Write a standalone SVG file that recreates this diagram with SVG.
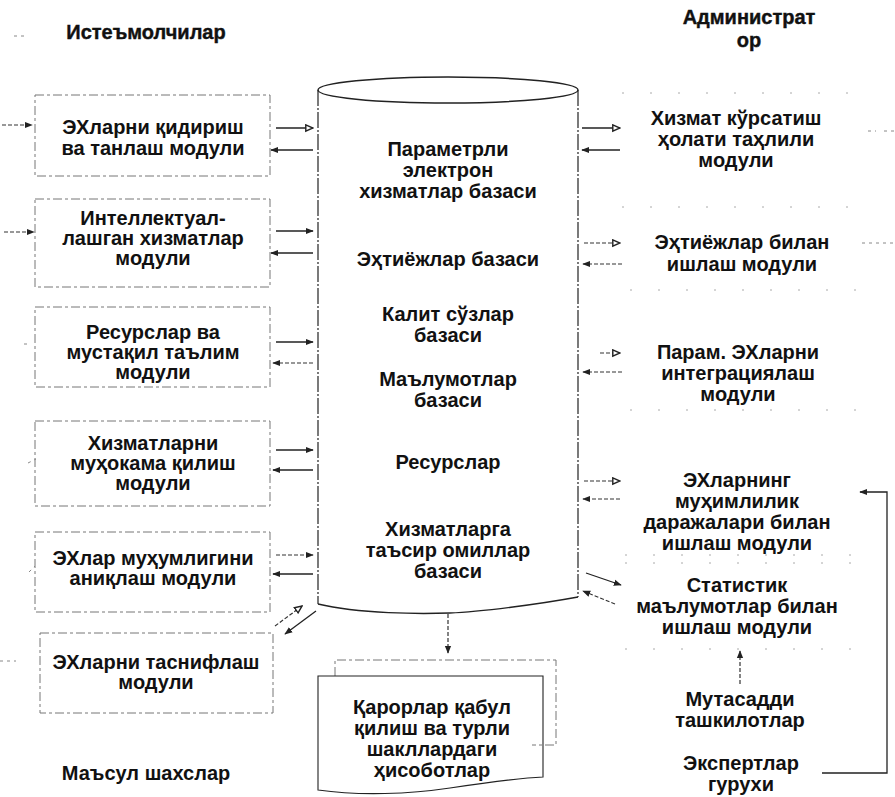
<svg xmlns="http://www.w3.org/2000/svg" width="895" height="797" viewBox="0 0 895 797">
<style>
  text { font-family: "Liberation Sans", Arial, sans-serif; font-weight: bold; font-size: 20px; fill: #111; text-anchor: middle; }
  .hdr { font-size: 20px; font-weight: 900; stroke: #111; stroke-width: 0.4; }
  .box { fill: none; stroke: #777; stroke-width: 1; stroke-dasharray: 9 3 3 3; }
  .fbox { fill: none; stroke: #aaa; stroke-width: 1; stroke-dasharray: 2 26; }
  .cyl { fill: none; stroke: #222; stroke-width: 1.4; }
  .cylside { fill: none; stroke: #222; stroke-width: 1.2; stroke-dasharray: 16 2 2 2; }
  .a { fill: none; stroke: #222; stroke-width: 1.3; }
  .ad { fill: none; stroke: #333; stroke-width: 1.2; stroke-dasharray: 4 2; }
  .faint { fill: none; stroke: #888; stroke-width: 1; stroke-dasharray: 3 4; }
</style>
<defs>
  <marker id="h" viewBox="0 0 10 10" refX="9" refY="5" markerWidth="8" markerHeight="8" markerUnits="userSpaceOnUse" orient="auto">
    <path d="M0,1 L10,5 L0,9 Z" fill="#222"/>
  </marker>
  <marker id="ho" viewBox="0 0 10 10" refX="9" refY="5" markerWidth="9" markerHeight="9" markerUnits="userSpaceOnUse" orient="auto">
    <path d="M1,1.5 L9,5 L1,8.5 Z" fill="#fff" stroke="#222" stroke-width="1.6"/>
  </marker>
</defs>

<!-- headers -->
<g id="consumers-header"><text class="hdr" x="146" y="39">Истеъмолчилар</text><path class="faint" d="M14,36 L26,36"/></g>
<g id="admin-header"><text class="hdr" x="749" y="24">Администрат</text><text class="hdr" x="749" y="47">ор</text></g>

<!-- left modules -->
<g id="m-search"><rect class="box" x="35" y="95" width="235" height="81"/><text x="153" y="134">ЭХларни қидириш</text><text x="153" y="155">ва танлаш модули</text></g>
<g id="m-intel"><rect class="box" x="35" y="199" width="235" height="88"/><text x="153" y="225">Интеллектуал-</text><text x="153" y="245">лашган хизматлар</text><text x="153" y="265">модули</text></g>
<g id="m-res"><rect class="box" x="35" y="307" width="235" height="80"/><text x="153" y="339">Ресурслар ва</text><text x="153" y="359">мустақил таълим</text><text x="153" y="379">модули</text></g>
<g id="m-disc"><rect class="box" x="35" y="421" width="235" height="85"/><text x="153" y="450">Хизматларни</text><text x="153" y="470">муҳокама қилиш</text><text x="153" y="490">модули</text></g>
<g id="m-imp"><rect class="box" x="35" y="532" width="235" height="80"/><text x="153" y="565">ЭХлар муҳумлигини</text><text x="153" y="585">аниқлаш модули</text></g>
<g id="m-class"><rect class="box" x="40" y="633" width="233" height="80"/><text x="156" y="669">ЭХларни таснифлаш</text><text x="156" y="689">модули</text></g>
<g id="resp"><text x="146" y="780">Маъсул шахслар</text></g>

<!-- cylinder -->
<g id="db">
  <ellipse class="cyl" cx="448" cy="90" rx="130" ry="13"/>
  <path class="cylside" d="M318,90 L318,604"/>
  <path class="cylside" d="M578,90 L578,597"/>
  <path class="cyl" d="M318,604 C360,614 420,614 450,613 S540,604 578,597"/>
  <text x="448" y="156">Параметрли</text>
  <text x="448" y="177">электрон</text>
  <text x="448" y="198">хизматлар базаси</text>
  <text x="448" y="266">Эҳтиёжлар базаси</text>
  <text x="448" y="321">Калит сўзлар</text>
  <text x="448" y="342">базаси</text>
  <text x="448" y="386">Маълумотлар</text>
  <text x="448" y="407">базаси</text>
  <text x="448" y="469">Ресурслар</text>
  <text x="448" y="536">Хизматларга</text>
  <text x="448" y="557">таъсир омиллар</text>
  <text x="448" y="578">базаси</text>
</g>

<!-- right modules -->
<g id="r-status"><path class="fbox" d="M622,93 L862,93 M622,207 L862,207"/><text x="736" y="125">Хизмат кўрсатиш</text><text x="736" y="146">ҳолати таҳлили</text><text x="736" y="167">модули</text></g>
<g id="r-needs"><path class="fbox" d="M630,290 L862,290"/><text x="742" y="249">Эҳтиёжлар билан</text><text x="742" y="271">ишлаш модули</text></g>
<g id="r-integr"><path class="fbox" d="M630,410 L862,410"/><text x="738" y="359">Парам. ЭХларни</text><text x="738" y="380">интеграциялаш</text><text x="738" y="401">модули</text></g>
<g id="r-import"><path class="fbox" d="M625,555 L862,555"/><text x="737" y="487">ЭХларнинг</text><text x="737" y="508">муҳимлилик</text><text x="737" y="529">даражалари билан</text><text x="737" y="550">ишлаш модули</text></g>
<g id="r-stat"><path class="fbox" d="M625,563 L862,563 M625,649 L862,649"/><text x="737" y="592">Статистик</text><text x="737" y="613">маълумотлар билан</text><text x="737" y="634">ишлаш модули</text></g>
<g id="r-org"><text x="740" y="706">Мутасадди</text><text x="740" y="727">ташкилотлар</text></g>
<g id="r-exp"><text x="741" y="770">Экспертлар</text><text x="741" y="791">гурухи</text></g>

<!-- report document -->
<g id="doc">
  <path class="box" d="M335,676 L335,660 L556,660 L556,745 L532,745"/>
  <path class="cyl" style="stroke-width:1.1" d="M318,676 L543,676 L543,777 C520,778 490,782 450,788 S360,796 318,790 Z"/>
  <text x="432" y="714">Қарорлар қабул</text>
  <text x="432" y="735">қилиш ва турли</text>
  <text x="432" y="756">шакллардаги</text>
  <text x="432" y="777">ҳисоботлар</text>
</g>

<!-- connectors -->
<g id="connectors">
  <path class="ad" d="M2,125 L32,125" marker-end="url(#h)"/>
  <path class="ad" d="M4,232 L34,232" marker-end="url(#h)"/>
  <path class="faint" d="M24,344 L30,344"/>
  <path class="faint" d="M28,463 L36,459"/>
  <path class="faint" d="M29,572 L35,566"/>
  <path class="faint" d="M0,661 L16,661"/>
  <path class="faint" d="M868,131 L876,131 M884,131 L895,131"/>
  <path class="faint" d="M862,243 L895,243"/>

  <path class="a" d="M276,128 L313,128" marker-end="url(#ho)"/>
  <path class="a" d="M313,150 L271,150" marker-end="url(#h)"/>
  <path class="a" d="M276,231 L313,231" marker-end="url(#h)"/>
  <path class="a" d="M313,253 L271,253" marker-end="url(#h)"/>
  <path class="a" d="M276,342 L313,342" marker-end="url(#h)"/>
  <path class="ad" d="M313,363 L273,363" marker-end="url(#h)"/>
  <path class="a" d="M276,450 L313,450" marker-end="url(#h)"/>
  <path class="a" d="M313,470 L273,470" marker-end="url(#h)"/>
  <path class="ad" d="M276,555 L313,555" marker-end="url(#h)"/>
  <path class="a" d="M313,574 L273,574" marker-end="url(#h)"/>
  <path class="ad" d="M275,626 L302,606" marker-end="url(#ho)"/>
  <path class="a" d="M316,611 L285,634" marker-end="url(#h)"/>

  <path class="a" d="M582,128 L620,128" marker-end="url(#ho)"/>
  <path class="a" d="M620,150 L582,150" marker-end="url(#h)"/>
  <path class="ad" d="M584,243 L620,243" marker-end="url(#ho)"/>
  <path class="ad" d="M622,264 L583,264" marker-end="url(#h)"/>
  <path class="ad" d="M600,353 L620,353" marker-end="url(#ho)"/>
  <path class="ad" d="M622,372 L583,372" marker-end="url(#h)"/>
  <path class="ad" d="M584,481 L620,481" marker-end="url(#ho)"/>
  <path class="ad" d="M620,499 L583,499" marker-end="url(#h)"/>
  <path class="a" d="M586,573 L621,585" marker-end="url(#h)"/>
  <path class="ad" d="M615,604 L583,591" marker-end="url(#h)"/>

  <path class="ad" d="M448,614 L448,653" marker-end="url(#h)"/>
  <path class="ad" d="M740,684 L740,651" marker-end="url(#h)"/>
  <path class="a" d="M822,773 L887,773 L887,492 L860,492" marker-end="url(#h)"/>
</g>
</svg>
